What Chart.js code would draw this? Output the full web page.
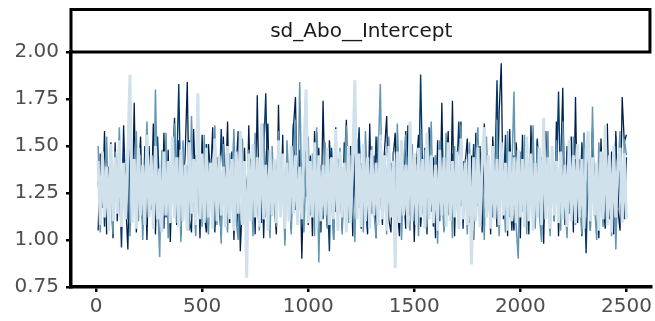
<!DOCTYPE html>
<html lang="en">
<head>
<meta charset="UTF-8" />
<title>sd_Abo__Intercept trace</title>
<script src="https://cdn.jsdelivr.net/npm/chart.js"></script>
<style>
  body { margin: 0; background: #fff; }
  .wrap { width: 655px; height: 321px; position: relative; }
</style>
</head>
<body>
<div class="wrap"><canvas id="trace"></canvas></div>
<script>
  // panel title and axis ticks
  const stripLabel = 'sd_Abo__Intercept';
  const xTicks = [0, 500, 1000, 1500, 2000, 2500];
  const yTicks = [0.75, 1.00, 1.25, 1.50, 1.75, 2.00];
  const iterStep = 10; // one stored draw every 10 iterations

  // chain values (thinned)
  const chain1 = [
    1.42,1.08,1.47,1.12,1.39,1.05,1.51,1.10,1.44,1.14,1.53,1.07,1.41,1.11,1.46,1.88,1.09,1.43,1.06,1.49,1.13,1.40,1.08,1.56,1.12,
    1.45,1.06,1.50,1.11,1.38,1.04,1.47,1.13,1.42,1.09,1.55,1.12,1.44,1.07,1.48,1.10,1.40,1.05,1.52,1.14,1.43,1.08,1.78,1.11,1.46,
    1.09,1.49,1.12,1.41,1.06,1.54,1.10,1.45,1.13,1.39,1.07,1.50,1.11,1.43,1.05,1.47,1.14,1.58,1.08,1.42,0.80,1.46,1.10,1.51,1.12,
    1.44,1.07,1.62,1.11,1.40,1.05,1.48,1.13,1.43,1.09,1.53,1.12,1.46,1.06,1.41,1.10,1.50,1.14,1.45,1.08,1.39,1.11,1.47,1.80,1.09,
    1.42,1.12,1.52,1.06,1.45,1.10,1.40,1.13,1.49,1.08,1.44,1.11,1.59,1.05,1.47,1.12,1.41,1.04,1.50,1.09,1.43,1.85,1.11,1.46,1.07,
    1.51,1.10,1.44,1.06,1.48,1.13,1.41,1.08,1.56,1.11,1.45,1.05,1.50,1.12,1.42,0.85,1.47,1.09,1.53,1.13,1.40,1.07,1.63,1.10,1.46,
    1.08,1.49,1.12,1.43,1.06,1.57,1.11,1.45,1.09,1.40,1.05,1.48,1.13,1.44,1.07,1.52,1.10,1.42,1.12,1.47,1.06,1.54,1.11,1.41,1.08,
    1.46,0.87,1.44,1.10,1.49,1.07,1.42,1.60,1.12,1.45,1.06,1.50,1.11,1.43,1.08,1.52,1.13,1.41,1.05,1.47,1.10,1.44,1.09,1.48,1.12,
    1.43,1.07,1.55,1.10,1.46,1.05,1.41,1.12,1.49,1.08,1.65,1.11,1.44,1.06,1.50,1.13,1.42,1.09,1.47,1.11,1.40,1.07,1.53,1.10,1.45,
    1.09,1.51,1.12,1.43,1.06,1.48,1.58,1.10,1.44,1.13,1.41,1.05,1.47,1.11,1.61,1.08,1.45,1.04,1.50,1.12,1.42,1.49,1.09,1.46,1.11
  ];
  const chain2 = [
    1.50,1.04,1.38,1.21,1.55,1.12,1.33,1.03,1.47,1.26,1.60,1.08,1.41,1.19,1.52,1.02,1.36,1.24,1.58,1.10,1.45,1.00,1.30,1.63,1.15,
    1.39,1.06,1.80,1.22,0.91,1.48,1.13,1.57,1.01,1.35,1.27,1.62,1.09,1.44,0.99,1.53,1.18,1.40,1.05,1.66,1.23,1.02,1.49,1.31,1.07,
    1.56,1.14,1.03,1.43,1.25,1.61,1.08,1.37,0.98,1.51,1.20,1.04,1.46,1.29,1.59,1.11,1.00,1.40,1.54,1.16,1.06,1.48,1.32,1.02,1.57,
    1.19,1.05,1.44,1.62,1.12,1.35,1.01,1.50,1.23,1.07,1.58,1.15,1.41,0.97,1.53,1.28,1.03,1.47,1.64,1.10,1.84,1.22,1.04,1.39,1.55,
    1.13,1.46,1.02,1.60,0.88,1.37,1.18,1.52,1.06,1.43,1.26,1.00,1.57,1.14,1.49,1.03,1.33,1.61,1.09,1.45,1.21,0.99,1.54,1.17,1.41,
    1.04,1.58,1.24,1.08,1.50,1.15,1.01,1.44,1.83,1.11,1.36,1.03,1.55,1.20,1.47,1.06,1.62,1.29,1.00,1.42,1.56,1.12,1.05,1.51,1.19,
    1.40,1.02,1.59,1.16,1.48,1.07,1.34,1.63,1.10,1.45,0.98,1.53,1.25,1.04,1.57,1.13,1.39,1.01,1.50,1.22,1.06,1.61,1.18,1.43,1.03,
    1.52,1.14,1.05,1.46,1.60,1.09,1.38,1.00,1.55,1.23,1.07,1.49,1.17,1.64,1.02,1.42,1.27,1.04,1.58,1.12,1.36,1.79,1.08,0.90,1.47,
    1.15,1.56,1.03,1.41,1.21,1.61,1.06,1.50,1.13,0.99,1.45,1.30,1.58,1.02,1.37,1.10,1.53,1.19,1.05,1.63,1.24,1.01,1.48,1.16,1.55,
    1.08,1.44,1.20,1.03,1.57,1.12,1.39,1.05,1.71,1.18,1.00,1.52,1.26,1.07,1.60,1.14,1.43,1.02,1.49,0.95,1.36,1.58,1.10,1.54,1.45
  ];
  const chain3 = [
    1.31,1.18,1.44,1.07,1.36,1.25,1.52,1.14,1.40,1.22,1.33,0.96,1.47,1.28,1.11,1.58,1.20,1.37,1.15,1.43,1.26,1.09,1.50,1.32,1.19,
    1.42,1.27,1.13,1.55,1.24,1.38,1.06,1.46,1.30,1.17,1.49,1.21,1.35,1.83,1.16,1.41,1.26,1.10,1.53,1.29,1.19,1.45,1.33,1.08,1.39,
    1.23,1.51,1.15,1.36,1.28,1.04,1.44,1.20,1.59,1.31,1.12,1.40,1.25,1.47,1.18,1.34,1.07,1.56,1.22,1.38,1.29,1.14,1.43,1.27,1.52,
    1.17,1.35,1.09,1.46,1.78,1.24,1.32,1.13,1.41,1.26,1.54,1.19,1.37,1.05,1.45,1.30,1.21,1.62,1.16,1.39,1.28,1.10,1.48,1.23,1.34,
    1.44,1.18,1.31,1.57,1.22,1.40,1.11,1.36,1.27,0.94,1.49,1.25,1.15,1.43,1.33,1.08,1.52,1.20,1.38,1.29,1.13,1.46,1.24,1.60,1.17,
    1.35,1.26,1.06,1.42,1.30,1.19,1.55,1.23,1.37,1.12,1.47,1.28,1.16,1.41,1.33,1.09,1.50,1.21,1.39,1.25,1.58,1.14,1.36,1.27,1.10,
    1.44,1.22,1.88,1.31,1.17,1.48,1.26,1.38,1.07,1.45,1.29,1.20,1.53,1.15,1.40,1.32,1.11,1.46,1.24,1.35,1.63,1.18,1.42,1.28,1.13,
    1.39,1.25,1.51,1.16,1.34,1.08,1.47,1.30,1.21,1.43,1.27,1.12,1.36,1.85,1.19,1.41,1.24,1.56,1.14,1.33,1.05,1.45,1.29,1.38,1.20,
    1.49,1.23,1.35,1.11,1.42,1.28,1.17,1.54,1.26,1.37,1.09,1.46,1.31,1.20,1.44,1.15,1.32,1.79,1.22,1.40,1.13,1.50,1.27,1.36,1.18,
    1.43,1.29,1.15,1.52,1.34,0.93,1.41,1.24,1.58,1.19,1.37,1.08,1.46,1.30,1.22,1.48,1.13,1.35,1.26,1.55,1.17,1.40,1.31,1.11,1.44
  ];
  const chain4 = [
    1.05,1.46,1.17,1.58,1.03,1.39,1.26,1.01,1.52,1.10,1.43,1.07,1.61,1.20,0.95,1.48,1.13,1.73,1.04,1.35,1.55,1.09,1.41,1.00,1.50,
    1.16,1.62,1.03,1.44,1.22,1.06,1.57,1.12,1.48,0.99,1.37,1.65,1.08,1.53,1.02,1.29,1.45,1.84,1.11,1.04,1.59,1.24,1.47,1.01,1.56,
    1.14,1.04,1.51,1.33,1.60,1.07,1.42,1.18,1.02,1.55,1.27,1.63,1.09,1.46,1.00,1.38,1.58,0.94,1.21,1.49,1.05,1.61,1.15,1.43,1.03,
    1.77,1.10,1.52,1.01,1.40,1.62,1.06,1.47,1.19,1.03,1.72,1.13,1.56,1.00,1.44,1.25,1.05,1.59,1.76,1.11,1.48,0.90,1.36,1.54,1.08,
    1.45,1.02,1.58,1.16,1.49,1.04,1.74,1.23,1.07,1.53,1.31,1.00,1.60,1.12,1.46,1.05,1.39,1.64,1.09,1.50,1.02,1.42,1.18,1.57,1.06,
    1.51,1.20,1.03,1.62,1.14,1.45,1.01,1.55,1.28,1.08,1.48,1.66,1.11,1.04,1.43,1.57,1.17,1.02,1.52,1.25,1.06,1.61,1.13,1.47,0.99,
    1.40,1.56,1.07,1.22,1.49,1.03,1.60,1.15,1.44,1.01,1.53,1.10,1.73,1.05,1.36,1.58,1.12,1.74,1.02,1.47,1.19,1.63,1.06,1.41,1.54,
    1.09,1.45,1.00,1.57,1.18,1.50,1.04,1.62,1.13,1.42,1.03,1.55,1.27,1.07,1.68,1.94,1.11,1.48,1.02,1.59,1.16,1.05,1.52,1.37,1.01,
    1.56,1.12,1.46,1.03,1.61,1.20,1.07,1.53,1.15,1.44,0.98,1.58,1.24,1.05,1.50,1.10,1.63,1.02,1.39,1.81,1.08,1.47,1.14,1.55,1.04,
    1.76,1.09,1.43,1.02,1.57,1.18,1.49,1.05,1.60,1.13,1.40,1.01,1.54,1.22,1.06,1.62,1.11,1.47,1.03,1.58,1.16,1.05,1.76,1.52,1.56
  ];

  const chains = [chain1, chain2, chain3, chain4];
  const chainColors = ['#d1e1ec', '#6497b1', '#03396c', '#011f4b'];
  const chainWidths = [3, 1.5, 1.4, 1.3];

  const toPoints = arr => arr.map((v, i) => ({ x: (i + 1) * iterStep, y: v }));

  // facet strip drawn above the panel
  const stripPlugin = {
    id: 'strip',
    afterDraw(chart) {
      const ctx = chart.ctx;
      const a = chart.chartArea;
      ctx.save();
      ctx.strokeStyle = '#000';
      ctx.lineWidth = 3;
      ctx.strokeRect(a.left, 9.5, a.right - a.left - 1.5, a.top - 9.5);
      ctx.fillStyle = '#1a1a1a';
      ctx.font = '20px "DejaVu Sans", sans-serif';
      ctx.textAlign = 'center';
      ctx.textBaseline = 'middle';
      ctx.fillText(stripLabel, (a.left + a.right) / 2, (9.5 + a.top) / 2 + 1);
      ctx.restore();
    }
  };

  const tickFont = { family: '"DejaVu Sans", sans-serif', size: 20 };

  new Chart(document.getElementById('trace'), {
    type: 'line',
    data: {
      datasets: chains.map((c, k) => ({
        label: 'chain ' + (k + 1),
        data: toPoints(c),
        borderColor: chainColors[k],
        borderWidth: chainWidths[k],
        pointRadius: 0,
        tension: 0,
        order: k + 1 // light chain ends up on top
      }))
    },
    options: {
      responsive: true,
      maintainAspectRatio: false,
      animation: false,
      layout: { padding: { top: 52, right: 3, left: 0, bottom: 0 } },
      plugins: { legend: { display: false }, tooltip: { enabled: false } },
      scales: {
        x: {
          type: 'linear',
          min: -118,
          max: 2618,
          afterFit: s => { s.height = 34; },
          afterBuildTicks: s => { s.ticks = xTicks.map(v => ({ value: v })); },
          ticks: { font: tickFont, color: '#4d4d4d', padding: 3, maxRotation: 0, callback: v => String(v) },
          grid: { drawOnChartArea: false, drawTicks: true, tickLength: 5, color: '#000', lineWidth: 2.5 },
          border: { display: true, color: '#000', width: 3.5 }
        },
        y: {
          min: 0.75,
          max: 2.0,
          afterFit: s => { s.width = 71; },
          afterBuildTicks: s => { s.ticks = yTicks.map(v => ({ value: v })); },
          ticks: { font: tickFont, color: '#4d4d4d', padding: 7, callback: v => v.toFixed(2) },
          grid: { drawOnChartArea: false, drawTicks: true, tickLength: 5, color: '#000', lineWidth: 2.5 },
          border: { display: true, color: '#000', width: 3.5 }
        }
      }
    },
    plugins: [stripPlugin]
  });
</script>
</body>
</html>
